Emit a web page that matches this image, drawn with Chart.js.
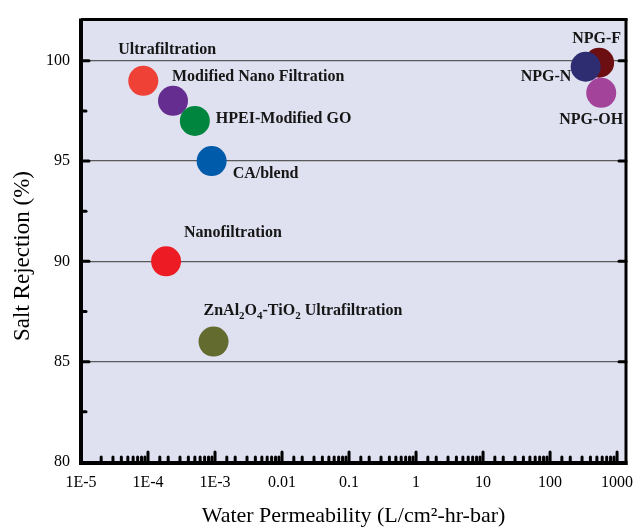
<!DOCTYPE html>
<html>
<head>
<meta charset="utf-8">
<script src="https://cdn.jsdelivr.net/npm/chart.js@4.4.0/dist/chart.umd.min.js"></script>
<style>
  html, body { margin: 0; padding: 0; background: #fff; }
</style>
</head>
<body>
<canvas id="chart" width="641" height="529"></canvas>
<script>
const membranes = ['Ultrafiltration', 'Modified Nano Filtration', 'HPEI-Modified GO', 'CA/blend',
    'Nanofiltration', 'ZnAl2O4-TiO2 Ultrafiltration', 'NPG-F', 'NPG-N', 'NPG-OH'];
const permeability = [8.5e-5, 2.36e-4, 5e-4, 8.9e-4, 1.86e-4, 9.5e-4, 540, 340, 580];
const rejection = [99, 98, 97, 95, 90, 86, 99.9, 99.7, 98.4];
const pointColors = ['#ef4136', '#662d91', '#00853f', '#005baa', '#ed1c24', '#636b2f',
    '#6d0f12', '#2e2d72', '#a3449a'];

const xTickValues = [1e-5, 1e-4, 1e-3, 0.01, 0.1, 1, 10, 100, 1000];
const xTickLabels = ['1E-5', '1E-4', '1E-3', '0.01', '0.1', '1', '10', '100', '1000'];
const yTickValues = [80, 85, 90, 95, 100];

// where each label sits, px from the point centre to text left / baseline
const labelOffsets = [[-25, -27], [-1, -20], [21, 2], [21, 17], [18, -24], [-10, -27],
    [-27, -20], [-65, 14], [-42, 31]];

const serif = '"Liberation Serif", "Times New Roman", serif';

function isDecade(v) {
    const l = Math.log10(v);
    return Math.abs(l - Math.round(l)) < 1e-6;
}

// lavender plot background
const plotBackground = {
    id: 'plotBackground',
    beforeDraw(chart) {
        const {ctx, chartArea: a} = chart;
        ctx.save();
        ctx.fillStyle = '#dfe0f0';
        ctx.fillRect(a.left, a.top, a.right - a.left, a.bottom - a.top);
        ctx.restore();
    }
};

// frame + inward ticks, drawn from the scales' own ticks
const axisFrame = {
    id: 'axisFrame',
    afterDraw(chart) {
        const {ctx, chartArea: a, scales: {x, y}} = chart;
        const line = (x1, y1, x2, y2) => {
            ctx.beginPath();
            ctx.moveTo(x1, y1);
            ctx.lineTo(x2, y2);
            ctx.stroke();
        };
        ctx.save();
        ctx.strokeStyle = '#000';
        ctx.lineCap = 'round';
        ctx.lineWidth = 3;
        y.ticks.forEach(t => {
            if (t.value <= y.min || t.value >= y.max) return;
            const py = y.getPixelForValue(t.value);
            const major = yTickValues.includes(t.value);
            line(a.left, py, a.left + (major ? 8 : 5), py);
            if (major) line(a.right, py, a.right - 7, py);
        });
        x.ticks.forEach(t => {
            if (t.value <= x.min * 1.001 || t.value > 1000 * 1.001) return;
            const px = x.getPixelForValue(t.value);
            line(px, a.bottom, px, a.bottom - (isDecade(t.value) ? 10 : 5));
        });
        ctx.lineCap = 'butt';
        ctx.lineWidth = 4;
        line(a.left, a.top - 2, a.left, a.bottom + 3);
        line(a.left - 2, a.bottom + 1, a.right + 1.5, a.bottom + 1);
        ctx.lineWidth = 3;
        line(a.left, a.top - 1, a.right + 1.5, a.top - 1);
        line(a.right, a.top - 2, a.right, a.bottom + 3);

        // y axis title
        ctx.fillStyle = '#000';
        ctx.font = '23px ' + serif;
        ctx.textAlign = 'center';
        ctx.textBaseline = 'middle';
        ctx.translate(23, 256);
        ctx.rotate(-Math.PI / 2);
        ctx.fillText('Salt Rejection (%)', 0, 0);
        ctx.restore();
    }
};

// point labels, digits drawn as subscripts
const pointLabels = {
    id: 'pointLabels',
    afterDatasetsDraw(chart) {
        const ctx = chart.ctx;
        const meta = chart.getDatasetMeta(0);
        ctx.save();
        ctx.fillStyle = '#161616';
        ctx.textAlign = 'left';
        ctx.textBaseline = 'alphabetic';
        meta.data.forEach((pt, i) => {
            let lx = pt.x + labelOffsets[i][0];
            const ly = pt.y + labelOffsets[i][1];
            membranes[i].split(/(\d)/).forEach((part, k) => {
                if (!part) return;
                const sub = k % 2 === 1;
                ctx.font = 'bold ' + (sub ? 11 : 16) + 'px ' + serif;
                ctx.fillText(part, lx, sub ? ly + 4 : ly);
                lx += ctx.measureText(part).width;
            });
        });
        ctx.restore();
    }
};

const chart = new Chart(document.querySelector('#chart'), {
    type: 'scatter',
    data: {
        datasets: [{
            data: permeability.map((p, i) => ({x: p, y: rejection[i]})),
            backgroundColor: pointColors,
            borderWidth: 0,
            pointRadius: 15,
            pointHoverRadius: 15
        }]
    },
    options: {
        responsive: false,
        animation: false,
        devicePixelRatio: 1,
        layout: {padding: {top: 12, right: 9, left: 0, bottom: 0}},
        plugins: {legend: {display: false}, tooltip: {enabled: false}},
        scales: {
            x: {
                type: 'logarithmic',
                min: 1e-5,
                max: 1359,
                afterFit(scale) { scale.height = 67; },
                grid: {display: false},
                border: {display: false},
                ticks: {
                    autoSkip: false,
                    maxRotation: 0,
                    padding: 3,
                    color: '#000',
                    font: {family: serif, size: 16},
                    callback(value) {
                        const i = xTickValues.findIndex(v => Math.abs(Math.log10(v) - Math.log10(value)) < 1e-6);
                        return i >= 0 ? xTickLabels[i] : '';
                    }
                },
                title: {
                    display: true,
                    text: 'Water Permeability (L/cm²-hr-bar)',
                    color: '#000',
                    font: {family: serif, size: 22, lineHeight: 1.2},
                    padding: {top: 0, bottom: 0}
                }
            },
            y: {
                min: 80,
                max: 102,
                afterFit(scale) { scale.width = 81; },
                border: {display: false},
                grid: {
                    drawTicks: false,
                    lineWidth: 1.2,
                    color: c => (yTickValues.includes(c.tick.value) && c.tick.value > 80) ? '#5a5a5a' : 'rgba(0,0,0,0)'
                },
                ticks: {
                    stepSize: 2.5,
                    padding: 11,
                    color: '#000',
                    font: {family: serif, size: 16},
                    callback: value => yTickValues.includes(value) ? String(value) : ''
                }
            }
        }
    },
    plugins: [plotBackground, pointLabels, axisFrame]
});
</script>
</body>
</html>
